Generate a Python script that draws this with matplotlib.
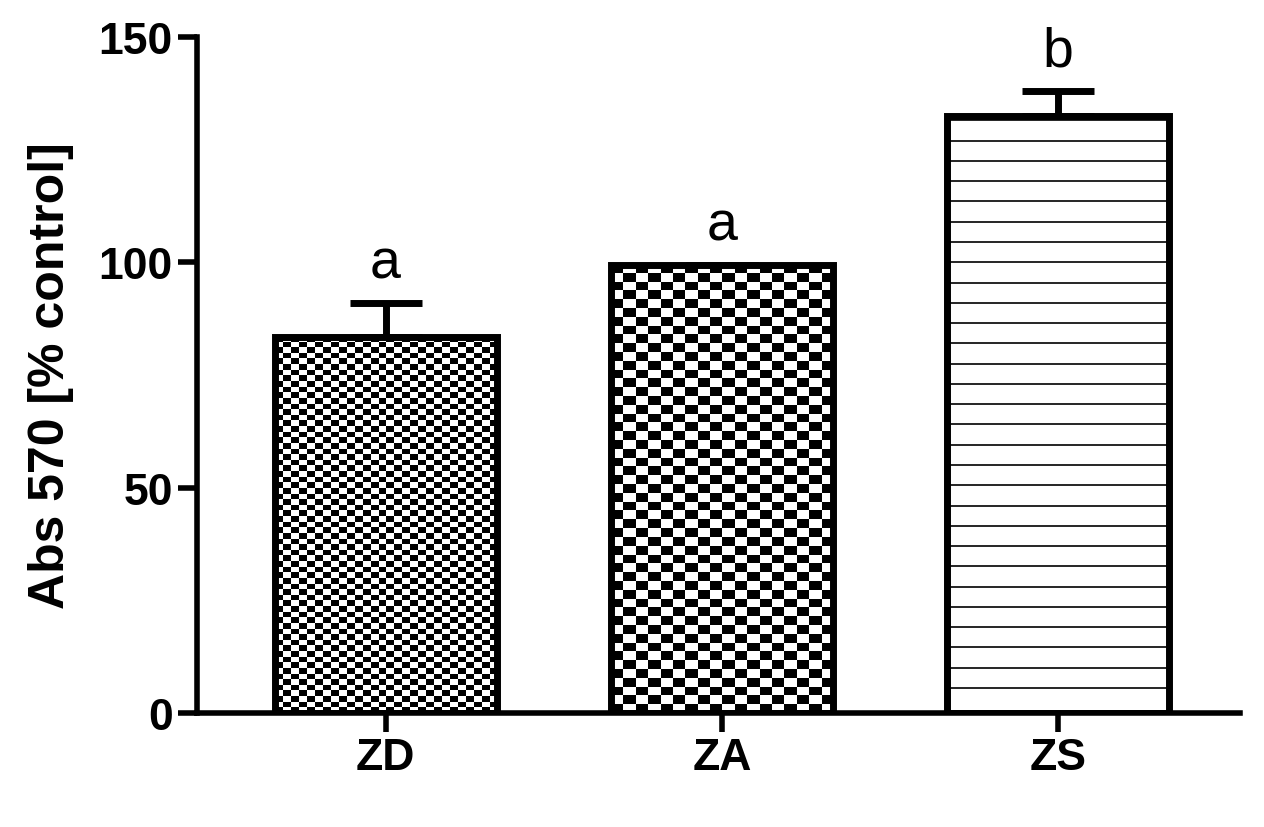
import numpy as np
import matplotlib
matplotlib.use("agg")
import matplotlib.pyplot as plt

groups = ["ZD", "ZA", "ZS"]
means = [83.5, 99.5, 132.5]
errs = [7.5, 0.0, 5.5]
letters = ["a", "a", "b"]

plt.rcParams['font.family'] = ['Liberation Sans', 'DejaVu Sans']
fig = plt.figure(figsize=(12.64, 8.28), dpi=100)
ax = fig.add_axes([0.156, 0.138, 0.825, 0.816])
x = np.arange(len(groups))
width = 0.66
bars = ax.bar(x, means, width, facecolor="none", edgecolor="black", linewidth=5, zorder=3)
ax.errorbar(x, means, yerr=[np.zeros(3), errs], fmt="none", ecolor="black",
            elinewidth=5, capsize=26, capthick=5, zorder=2)

# checkerboard fills (cell counts per bar)
for bar, cells in zip(bars[:2], [28, 18]):
    x0, w, h = bar.get_x(), bar.get_width(), bar.get_height()
    ny = int(cells * h / 100 * 2.9)
    board = (np.add.outer(np.arange(ny), np.arange(cells)) % 2).astype(float)
    im = ax.imshow(board, cmap="gray", extent=(x0, x0 + w, 0, h), aspect="auto",
                   interpolation="nearest", zorder=2.5)
# horizontal lines for ZS
b = bars[2]
ax.fill_between([b.get_x(), b.get_x() + b.get_width()], 0, b.get_height(), color="white", zorder=2.4)
for yv in np.arange(5.5, b.get_height(), 4.5):
    ax.plot([b.get_x(), b.get_x() + b.get_width()], [yv, yv], color="black", lw=1.2, zorder=2.6)

for xi, m, e, t in zip(x, means, errs, letters):
    ax.text(xi, m + e + 3, t, ha="center", va="bottom", fontsize=40)

ax.set_xlim(-0.56, 2.54)
ax.set_ylim(0, 150)
ax.set_yticks([0, 50, 100, 150])
ax.set_xticks(x)
ax.set_xticklabels(groups, fontsize=32, fontweight="bold")
ax.tick_params(axis="y", labelsize=32, width=4, length=14)
ax.tick_params(axis="x", width=4, length=14)
for lab in ax.get_yticklabels():
    lab.set_fontweight("bold")
ax.spines[["top", "right"]].set_visible(False)
ax.spines[["left", "bottom"]].set_linewidth(4)
ax.set_ylabel("Abs 570 [% control]", fontsize=36, fontweight="bold", labelpad=18)
fig.savefig("out.png", dpi=100)
